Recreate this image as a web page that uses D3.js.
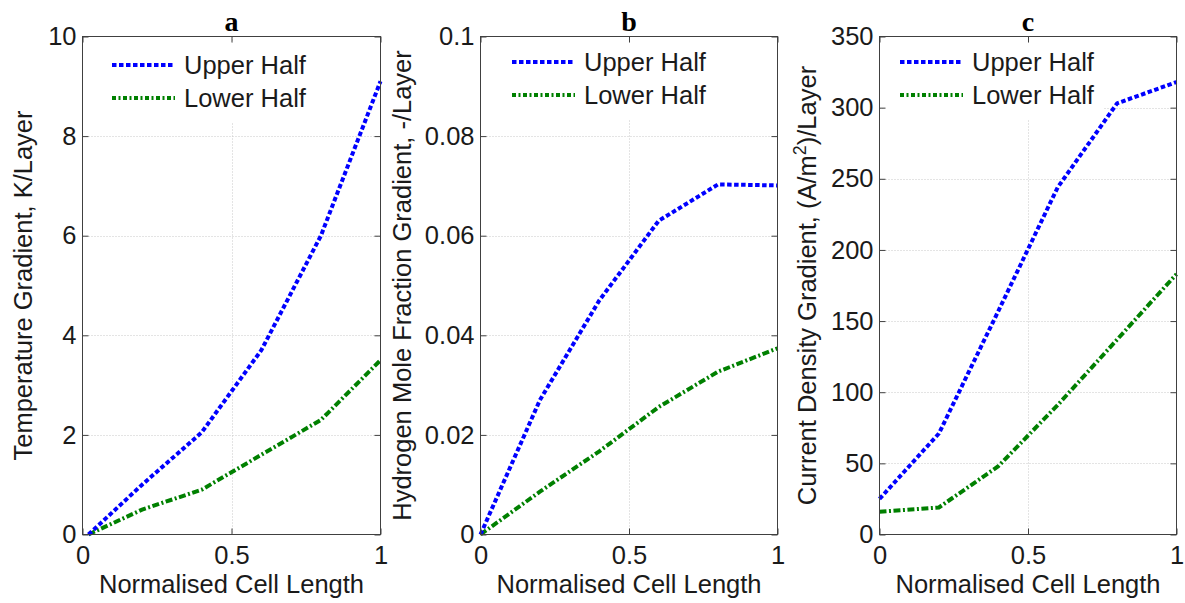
<!DOCTYPE html>
<html>
<head>
<meta charset="utf-8">
<script src="https://cdn.jsdelivr.net/npm/d3@7"></script>
<style>
  body { margin: 0; background: #fff; }
  svg { display: block; font-family: "Liberation Sans", Arial, sans-serif; }
</style>
</head>
<body>
<svg id="fig" width="1185" height="603"></svg>
<script>
"use strict";

// x positions along the cell (panel a starts just off zero)
const xTemp = [0.02, 0.2, 0.4, 0.6, 0.8, 1];
const xCell = [0, 0.2, 0.4, 0.6, 0.8, 1];

// panel a - temperature gradient, K/Layer
const tempUpper = [0, 1.0, 2.05, 3.7, 6.0, 9.1];
const tempLower = [0, 0.5, 0.9, 1.6, 2.3, 3.5];

// panel b - hydrogen mole fraction gradient
const h2Upper = [0, 0.027, 0.047, 0.063, 0.0703, 0.0701];
const h2Lower = [0, 0.0086, 0.0167, 0.0256, 0.0327, 0.0374];

// panel c - current density gradient
const curUpper = [25, 71, 157, 244, 303, 318];
const curLower = [16, 19, 48, 91, 137, 183];

const xTicks = [0, 0.5, 1];
const xTickLabels = ["0", "0.5", "1"];
const tempTicks = [0, 2, 4, 6, 8, 10];
const h2Ticks = [0, 0.02, 0.04, 0.06, 0.08, 0.1];
const h2TickLabels = ["0", "0.02", "0.04", "0.06", "0.08", "0.1"];
const curTicks = [0, 50, 100, 150, 200, 250, 300, 350];

const seriesNames = ["Upper Half", "Lower Half"];

const FONT = 25.5;
const plotTop = 36.5, plotBottom = 534.5;

const svg = d3.select("#fig");

function createChart(p) {
  const x = d3.scaleLinear().domain([0, 1]).range([p.left, p.right]);
  const y = d3.scaleLinear().domain(p.yDomain).range([plotBottom, plotTop]);
  const g = svg.append("g");

  // grid, dotted
  const grid = g.append("g")
    .attr("stroke", "#c8c8c8")
    .attr("stroke-width", 1)
    .attr("stroke-dasharray", "1,2");
  grid.selectAll("line.v")
    .data(xTicks.slice(1, -1))
    .enter().append("line")
    .attr("x1", d => Math.round(x(d)) + 0.5).attr("x2", d => Math.round(x(d)) + 0.5)
    .attr("y1", plotTop).attr("y2", plotBottom);
  grid.selectAll("line.h")
    .data(p.yTicks.slice(1, -1))
    .enter().append("line")
    .attr("x1", p.left).attr("x2", p.right)
    .attr("y1", d => Math.round(y(d)) + 0.5).attr("y2", d => Math.round(y(d)) + 0.5);

  // legend background hides the grid behind it
  g.append("rect")
    .attr("x", p.left + 4)
    .attr("y", plotTop + 6)
    .attr("width", p.legendX - p.left + 200)
    .attr("height", p.legendY + 51 - plotTop)
    .attr("fill", "#fff");

  // lines
  const line = d3.line().x(d => x(d[0])).y(d => y(d[1]));
  g.append("path")
    .datum(p.xs.map((v, i) => [v, p.lower[i]]))
    .attr("d", line)
    .attr("fill", "none")
    .attr("stroke", "#008000")
    .attr("stroke-width", 4)
    .attr("stroke-dasharray", "7,2.5,2,2.5");
  g.append("path")
    .datum(p.xs.map((v, i) => [v, p.upper[i]]))
    .attr("d", line)
    .attr("fill", "none")
    .attr("stroke", "#0000ff")
    .attr("stroke-width", 4)
    .attr("stroke-dasharray", "4.5,2.5");

  // axes: ticks inside, on all four sides
  const fmtY = d => p.yLabels ? p.yLabels[p.yTicks.indexOf(d)] : String(d);
  const axL = g.append("g").attr("transform", `translate(${p.left},0)`)
    .call(d3.axisLeft(y).tickValues(p.yTicks).tickSize(-6).tickPadding(6).tickFormat(fmtY));
  const axR = g.append("g").attr("transform", `translate(${p.right},0)`)
    .call(d3.axisRight(y).tickValues(p.yTicks).tickSize(-6).tickFormat(""));
  const axB = g.append("g").attr("transform", `translate(0,${plotBottom})`)
    .call(d3.axisBottom(x).tickValues(xTicks).tickSize(-6).tickPadding(11)
      .tickFormat((d, i) => xTickLabels[i]));
  const axT = g.append("g").attr("transform", `translate(0,${plotTop})`)
    .call(d3.axisTop(x).tickValues(xTicks).tickSize(-6).tickFormat(""));
  [axL, axR, axB, axT].forEach(a => {
    a.select(".domain").remove();
    a.selectAll("line").attr("stroke", "#404040");
    a.attr("font-size", FONT).attr("font-family", null);
    a.selectAll("text").attr("fill", "#1a1a1a");
  });

  g.append("rect")
    .attr("x", p.left).attr("y", plotTop)
    .attr("width", p.right - p.left).attr("height", plotBottom - plotTop)
    .attr("fill", "none")
    .attr("stroke", "#404040")
    .attr("stroke-width", 1);

  // legend
  const leg = g.append("g");
  const styles = [
    { color: "#0000ff", dash: "4.5,2.5" },
    { color: "#008000", dash: "4,2.5,2,2.5" }
  ];
  seriesNames.forEach((name, i) => {
    const ly = p.legendY + i * 33;
    leg.append("line")
      .attr("x1", p.legendX).attr("x2", p.legendX + 63)
      .attr("y1", ly).attr("y2", ly)
      .attr("stroke", styles[i].color)
      .attr("stroke-width", 4)
      .attr("stroke-dasharray", styles[i].dash);
    leg.append("text")
      .attr("x", p.legendX + 72).attr("y", ly)
      .attr("dy", "0.36em")
      .attr("font-size", FONT)
      .attr("fill", "#1a1a1a")
      .text(name);
  });

  addLabels(p, x);
}

function addLabels(p, x) {
  const mid = (plotTop + plotBottom) / 2;
  svg.append("text")
    .attr("x", x(0.5)).attr("y", 31)
    .attr("text-anchor", "middle")
    .attr("font-family", "'Liberation Serif', 'Times New Roman', serif")
    .attr("font-weight", "bold")
    .attr("font-size", 28)
    .text(p.title);

  svg.append("text")
    .attr("x", x(0.5)).attr("y", 593)
    .attr("text-anchor", "middle")
    .attr("font-size", FONT)
    .attr("fill", "#1a1a1a")
    .text("Normalised Cell Length");

  const yl = svg.append("text")
    .attr("transform", `translate(${p.labelX},${mid}) rotate(-90)`)
    .attr("text-anchor", "middle")
    .attr("font-size", FONT)
    .attr("fill", "#1a1a1a");
  p.yLabel.forEach(part => {
    const t = yl.append("tspan").text(part.text);
    if (part.sup) t.attr("font-size", FONT * 0.7).attr("baseline-shift", "super");
  });
}

createChart({
  title: "a", left: 82.5, right: 380.5, yDomain: [0, 10],
  yTicks: tempTicks, xs: xTemp, upper: tempUpper, lower: tempLower,
  legendX: 112, legendY: 65, labelX: 32,
  yLabel: [{ text: "Temperature Gradient,  K/Layer" }]
});
createChart({
  title: "b", left: 480.5, right: 777.5, yDomain: [0, 0.1],
  yTicks: h2Ticks, yLabels: h2TickLabels, xs: xCell, upper: h2Upper, lower: h2Lower,
  legendX: 512, legendY: 62, labelX: 411,
  yLabel: [{ text: "Hydrogen Mole Fraction Gradient, -/Layer" }]
});
createChart({
  title: "c", left: 879.5, right: 1176.5, yDomain: [0, 350],
  yTicks: curTicks, xs: xCell, upper: curUpper, lower: curLower,
  legendX: 900, legendY: 62, labelX: 816,
  yLabel: [{ text: "Current Density Gradient,  (A/m" }, { text: "2", sup: true }, { text: ")/Layer" }]
});
</script>
</body>
</html>
